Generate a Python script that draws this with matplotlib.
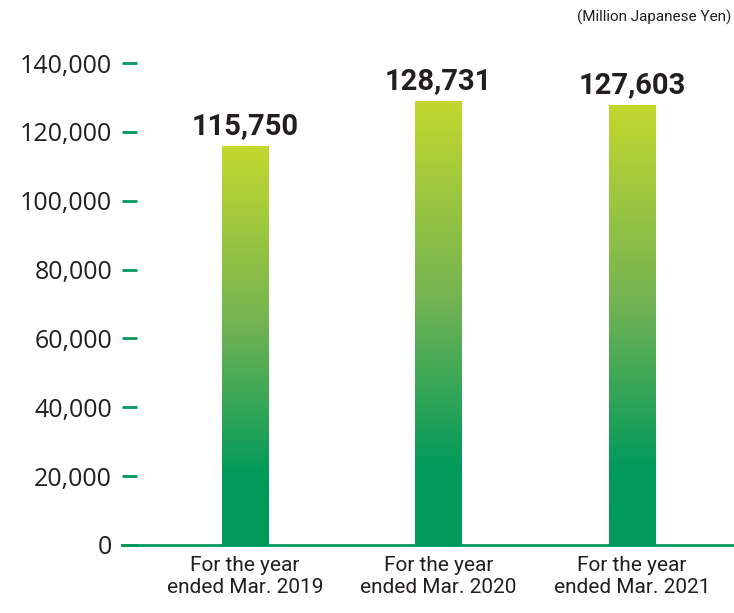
import numpy as np
import matplotlib.pyplot as plt
from matplotlib.colors import LinearSegmentedColormap
from matplotlib import font_manager

# データ
categories = ['For the year\nended Mar. 2019', 'For the year\nended Mar. 2020', 'For the year\nended Mar. 2021']
values = [115750, 128731, 127603]
value_labels = ['115,750', '128,731', '127,603']
yticks = [0, 20000, 40000, 60000, 80000, 100000, 120000, 140000]
ytick_labels = ['0', '20,000', '40,000', '60,000', '80,000', '100,000', '120,000', '140,000']
unit = '(Million Japanese Yen)'

names = {f.name for f in font_manager.fontManager.ttflist}
narrow = 'Liberation Sans Narrow' if 'Liberation Sans Narrow' in names else 'Roboto'
plt.rcParams['font.family'] = ['Open Sans', 'DejaVu Sans']

green = '#009A5B'
cmap = LinearSegmentedColormap.from_list('g', [(0, green), (0.17, green), (0.55, '#72B353'), (1, '#C2D82E')])

fig = plt.figure(figsize=(7.34, 6.13), dpi=100)
ax = fig.add_axes([0.166, 0.111, 0.834, 0.786])
ax.set_xlim(-0.636, 2.527)
ax.set_ylim(0, 140000)

w = 0.238
grad = np.linspace(0, 1, 256).reshape(-1, 1)
for i, v in enumerate(values):
    ax.imshow(grad, cmap=cmap, origin='lower', aspect='auto',
              extent=(i - w / 2, i + w / 2, 0, v), zorder=2)
    ax.annotate(value_labels[i], (i, v), xytext=(0, 5), textcoords='offset points',
                ha='center', va='bottom', fontsize=21, fontweight='bold',
                family=[narrow, 'DejaVu Sans'], color='#231F20', annotation_clip=False)

ax.set_yticks(yticks)
ax.set_yticklabels(ytick_labels, fontsize=18, color='#231F20')
ax.set_xticks(range(len(categories)))
ax.set_xticklabels(categories, fontsize=15, color='#231F20', family=[narrow, 'DejaVu Sans'], linespacing=1.2)
ax.tick_params(axis='y', length=11, width=2, color=green, pad=7, direction='in')
ax.tick_params(axis='x', length=0, pad=8)
for s in ['top', 'right', 'left']:
    ax.spines[s].set_visible(False)
ax.spines['bottom'].set_color(green)
ax.spines['bottom'].set_linewidth(2)
ax.spines['bottom'].set_zorder(3)

fig.text(0.997, 0.972, unit, ha='right', va='center', fontsize=11,
         family=[narrow, 'DejaVu Sans'], color='#231F20')

fig.savefig('out.png', dpi=100)
